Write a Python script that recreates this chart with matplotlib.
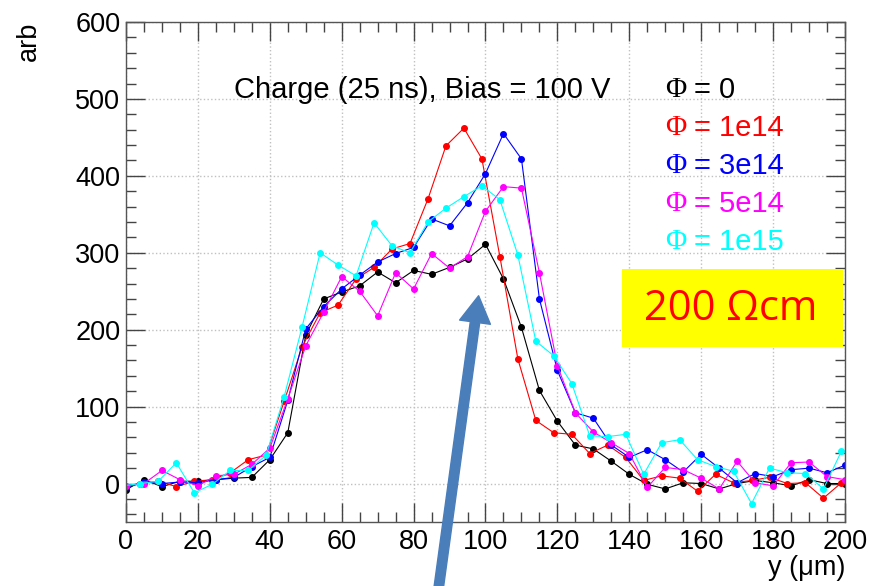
import matplotlib
matplotlib.use('Agg')
import matplotlib.pyplot as plt
from matplotlib.patches import Rectangle, FancyArrowPatch
from matplotlib.ticker import MultipleLocator

plt.rcParams['font.family'] = ['Liberation Sans', 'DejaVu Sans']

# scan positions (um); red and cyan scans sit ~1 um to the left
x_a = list(range(0, 201, 5))
x_b = [v - 1 for v in x_a]

phi0 = [-8, 5, -4, 3, 3, 5, 7, 8, 31, 66, 193, 240, 249, 257, 275, 261, 277, 272, 281, 292,
        311, 266, 203, 121, 81, 50, 45, 29, 12, -1, -7, 1, 0, -7, 0, 4, 1, -3, 5, 0, 0]
phi1e14 = [-5, 0, 3, -4, 3, 5, 14, 31, 37, 107, 178, 222, 232, 266, 281, 305, 312, 370, 439, 462,
           422, 295, 162, 82, 66, 64, 39, 50, 34, 4, 10, 7, -10, 12, 1, 4, 8, 0, 1, -19, 1]
phi3e14 = [-5, 2, 0, 2, 1, 5, 8, 22, 34, 108, 201, 230, 253, 271, 288, 299, 307, 344, 335, 365,
           403, 455, 422, 240, 147, 92, 85, 50, 34, 44, 31, 15, 38, 20, 1, 13, 9, 18, 20, 14, 24]
phi5e14 = [-3, 0, 17, 5, -3, 10, 12, 25, 46, 110, 179, 223, 269, 250, 218, 274, 253, 299, 280, 295,
           354, 386, 384, 274, 153, 92, 67, 53, 39, -5, 21, 18, 7, -7, 29, 1, -3, 27, 28, 9, 5]
phi1e15 = [-3, 0, 3, 27, -12, -1, 17, 17, 37, 113, 204, 300, 284, 270, 339, 309, 300, 340, 358, 373,
           387, 369, 297, 185, 166, 130, 62, 61, 64, 12, 53, 57, 31, 22, 16, -26, 20, 14, 13, -7, 42]

series = [
    (x_a, phi0, 'black', '0'),
    (x_b, phi1e14, 'red', '1e14'),
    (x_a, phi3e14, 'blue', '3e14'),
    (x_a, phi5e14, 'magenta', '5e14'),
    (x_b, phi1e15, 'cyan', '1e15'),
]

W, H = 873, 586
fig = plt.figure(figsize=(W / 100, H / 100), dpi=100)
ax = fig.add_axes([126 / W, 1 - 522 / H, (845 - 126) / W, (522 - 22) / H])

for xs, ys, col, lab in series:
    ax.plot(xs, ys, color=col, lw=0.8, marker='o', ms=4, mec=col, mfc=col)

ax.set_xlim(0, 200)
ax.set_ylim(-50, 600)
ax.xaxis.set_major_locator(MultipleLocator(20))
ax.xaxis.set_minor_locator(MultipleLocator(5))
ax.yaxis.set_major_locator(MultipleLocator(100))
ax.yaxis.set_minor_locator(MultipleLocator(20))
ax.grid(True, which='major', color='#c0c0c0', ls=':', lw=1)
ax.tick_params(which='both', direction='in', top=True, right=True, labelsize=19.5, color='#444444')
ax.tick_params(which='major', length=14, width=1)
ax.tick_params(which='minor', length=7, width=1)
ax.tick_params(axis='x', pad=5)
ax.tick_params(axis='y', pad=4)
for s in ax.spines.values():
    s.set_color('#555555')
    s.set_linewidth(1)

ax.set_xlabel('y (μm)', fontsize=19.5, loc='right', labelpad=0)
ax.set_ylabel('arb', fontsize=19.5, loc='top', labelpad=24)

ax.text(234 / W, 1 - 90 / H, 'Charge (25 ns), Bias = 100 V', transform=fig.transFigure,
        fontsize=21, va='center', ha='left')

for i, (xs, ys, col, lab) in enumerate(series):
    yy = 1 - (90 + 38 * i) / H
    fig.text(665 / W, yy, 'Φ', color=col, fontsize=21, family='Liberation Serif', va='center')
    fig.text(694 / W, yy, '= ' + lab, color=col, fontsize=21, va='center')

fig.add_artist(Rectangle((622 / W, 1 - 347 / H), 221 / W, 78 / H, transform=fig.transFigure,
                         facecolor='yellow', edgecolor='none'))
fig.text(731 / W, 1 - 309 / H, '200 Ωcm', color='red', fontsize=30, family='Open Sans',
         ha='center', va='center')

fig.add_artist(FancyArrowPatch((437 / W, 1 - 600 / H), (479 / W, 1 - 293 / H),
                               transform=fig.transFigure,
                               arrowstyle='simple,head_width=2.8,head_length=2.4,tail_width=0.85',
                               mutation_scale=8, color='#4a7ebb', clip_on=False))

fig.savefig('out.png', dpi=100)
